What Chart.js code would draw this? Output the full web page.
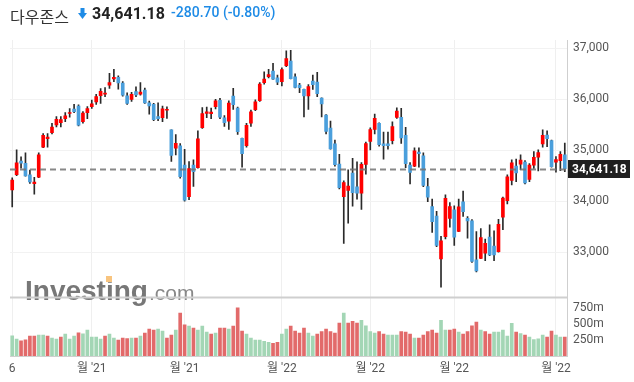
<!DOCTYPE html>
<html>
<head>
<meta charset="utf-8">
<script src="https://cdn.jsdelivr.net/npm/chart.js@4.4.0/dist/chart.umd.min.js"></script>
<style>
  html, body { margin: 0; padding: 0; background: #fff; }
  #wrap { position: relative; width: 634px; height: 382px; overflow: hidden; }
  #chart { position: absolute; left: 0; top: 0; }
  .hd { position: absolute; top: 4px; line-height: 20px; white-space: nowrap; }
  .nm { left: 10px; font: 16px "Noto Sans CJK KR", sans-serif; color: #333; }
  .arr { position: absolute; left: 78px; top: 8px; }
  .px { left: 92px; font: bold 16px Roboto, sans-serif; color: #222; }
  .chg { left: 171px; font: 500 14px Roboto, sans-serif; color: #1e8be6; }
</style>
</head>
<body>
<div id="wrap">
  <canvas id="chart" width="634" height="382"></canvas>
  <span class="hd nm">다우존스</span>
  <svg class="arr" width="9" height="12" viewBox="0 0 9 12"><rect x="2.5" y="0" width="4" height="6" fill="#1e8be6"/><polygon points="0,5 9,5 4.5,11" fill="#1e8be6"/></svg>
  <span class="hd px">34,641.18</span>
  <span class="hd chg">-280.70 (-0.80%)</span>
</div>
<script>
// dias de negociação (out/2021 - abr/2022)
const dates = [
  '2021-10-06','2021-10-07','2021-10-08','2021-10-11','2021-10-12','2021-10-13','2021-10-14','2021-10-15','2021-10-18','2021-10-19',
  '2021-10-20','2021-10-21','2021-10-22','2021-10-25','2021-10-26','2021-10-27','2021-10-28','2021-10-29',
  '2021-11-01','2021-11-02','2021-11-03','2021-11-04','2021-11-05','2021-11-08','2021-11-09','2021-11-10','2021-11-11','2021-11-12',
  '2021-11-15','2021-11-16','2021-11-17','2021-11-18','2021-11-19','2021-11-22','2021-11-23','2021-11-24','2021-11-26','2021-11-29','2021-11-30',
  '2021-12-01','2021-12-02','2021-12-03','2021-12-06','2021-12-07','2021-12-08','2021-12-09','2021-12-10','2021-12-13','2021-12-14',
  '2021-12-15','2021-12-16','2021-12-17','2021-12-20','2021-12-21','2021-12-22','2021-12-23','2021-12-27','2021-12-28','2021-12-29','2021-12-30','2021-12-31',
  '2022-01-03','2022-01-04','2022-01-05','2022-01-06','2022-01-07','2022-01-10','2022-01-11','2022-01-12','2022-01-13','2022-01-14',
  '2022-01-18','2022-01-19','2022-01-20','2022-01-21','2022-01-24','2022-01-25','2022-01-26','2022-01-27','2022-01-28','2022-01-31',
  '2022-02-01','2022-02-02','2022-02-03','2022-02-04','2022-02-07','2022-02-08','2022-02-09','2022-02-10','2022-02-11','2022-02-14',
  '2022-02-15','2022-02-16','2022-02-17','2022-02-18','2022-02-22','2022-02-23','2022-02-24','2022-02-25','2022-02-28',
  '2022-03-01','2022-03-02','2022-03-03','2022-03-04','2022-03-07','2022-03-08','2022-03-09','2022-03-10','2022-03-11','2022-03-14',
  '2022-03-15','2022-03-16','2022-03-17','2022-03-18','2022-03-21','2022-03-22','2022-03-23','2022-03-24','2022-03-25','2022-03-28',
  '2022-03-29','2022-03-30','2022-03-31','2022-04-01','2022-04-04','2022-04-05'
];

const opens = [
  34220,34520,34790,34745,34520,34345,34470,35060,35230,35345,
  35500,35540,35620,35725,35810,35870,35560,35740,35855,35950,
  36070,36100,36280,36400,36430,36320,36070,36000,36150,36100,
  36180,35930,35900,35660,35640,35785,35400,35040,35085,34710,
  34090,34710,34660,35445,35725,35720,35855,35980,35635,35570,
  36065,35830,35235,35090,35530,35795,35975,36325,36445,36555,
  36420,36345,36660,36750,36440,36280,36195,36065,36360,36340,
  36025,35690,35435,35125,34730,34090,34210,34550,34280,34160,
  34720,35175,35410,35530,35125,35125,35190,35645,35645,35295,
  34710,34690,34965,34890,34285,33895,33710,32865,33305,33660,
  33830,33405,33990,33665,33615,32850,32875,32980,33295,33120,
  33010,33685,34010,34410,34690,34725,34770,34430,34710,34865,
  35125,35300,35190,34765,34795,34910
];
const highs = [
  34460,35010,34870,34950,34610,34470,34950,35330,35330,35530,
  35660,35660,35740,35820,35900,35890,35760,35860,35985,36100,
  36210,36230,36510,36590,36460,36350,36130,36140,36245,36330,
  36220,35965,35920,35930,35870,35855,35400,35310,35130,35020,
  34780,34810,35380,35840,35850,35830,36000,36020,35680,35970,
  36215,35850,35240,35530,35790,35990,36330,36540,36590,36705,
  36475,36620,36950,36960,36500,36315,36200,36290,36475,36530,
  36030,35700,35575,35200,34920,34400,34615,34840,34775,34760,
  35160,35440,35710,35540,35355,35355,35560,35835,35825,35450,
  34760,35050,35050,34950,34450,34040,33800,33310,34125,33975,
  33910,34040,34200,33700,33640,33405,33465,33255,33535,33420,
  33645,34080,34520,34810,34825,34910,34800,34740,34975,35010,
  35400,35380,35200,34875,34975,35140
];
const lows = [
  33890,34500,34650,34490,34350,34140,34460,35050,35060,35320,
  35460,35460,35560,35650,35740,35480,35530,35620,35820,35900,
  35920,36050,36215,36345,36200,36060,35900,35960,36050,36080,
  35920,35710,35580,35580,35560,35625,34780,34910,34450,34000,
  34030,34290,34650,35430,35640,35620,35810,35620,35470,35410,
  35800,35310,34670,35060,35470,35780,35960,36300,36420,36390,
  36290,36265,36640,36400,36225,36130,35655,35800,36195,36050,
  35655,35320,35020,34690,34240,33170,33570,33905,34040,33840,
  34530,35005,35320,35080,34825,35020,35125,35625,35135,34660,
  34340,34680,34670,34285,33990,33385,33110,32310,33260,33490,
  33130,33400,33700,33275,32800,32610,32870,32835,32930,32835,
  33000,33440,33945,34320,34385,34620,34340,34385,34645,34595,
  35060,35070,34670,34570,34600,34580
];
const closes = [
  34417,34755,34746,34496,34378,34377,34912,35295,35259,35457,
  35609,35603,35677,35741,35757,35491,35731,35820,35913,36053,
  36158,36124,36328,36432,36320,36080,35921,36100,36087,36143,
  35931,35871,35602,35619,35814,35805,34899,35136,34484,34022,
  34640,34580,35227,35719,35755,35750,35971,35650,35544,35927,
  35897,35365,34932,35492,35754,35950,36302,36398,36488,36398,
  36338,36585,36799,36407,36236,36231,36068,36252,36290,36113,
  35911,35368,35029,34715,34265,34364,34297,34168,34160,34725,
  35132,35405,35629,35111,35089,35091,35463,35768,35241,34738,
  34566,34989,34934,34312,34079,33597,33132,33224,34059,33893,
  33294,33891,33795,33615,32818,32633,33286,33174,32944,32945,
  33545,34063,34481,34755,34553,34808,34359,34708,34862,34956,
  35294,35229,34678,34818,34922,34641
];
// volume em milhões
const volumes = [
  316,264,237,253,311,311,327,327,311,280,
  264,295,343,264,311,364,348,406,295,295,
  264,311,343,280,248,280,274,280,280,311,
  359,422,406,422,390,280,327,406,675,490,
  469,438,406,469,374,343,359,438,438,422,
  469,754,390,343,280,248,248,232,216,200,
  216,343,422,469,390,359,438,359,311,343,
  385,422,385,359,517,675,517,543,517,559,
  475,385,359,385,343,327,327,327,385,374,
  343,280,280,327,385,406,359,559,406,406,
  422,374,343,385,475,533,406,385,343,374,
  374,406,311,512,374,353,327,295,258,269,
  327,295,390,327,295,295
];

const xTickDates = ['2021-10-06','2021-11-01','2021-12-01','2022-01-03','2022-02-01','2022-03-01','2022-04-01'];
const xTickText = ['6', "월 '21", "월 '21", "월 '22", "월 '22", "월 '22", "월 '22"];
const priceTicks = [33000, 34000, 35000, 36000, 37000];
const volTicks = [250, 500, 750];
const lastPrice = 34641.18;

const upColor = '#ff0000';
const downColor = '#4a9fdc';
const wickColor = '#2a2a2a';
const volUp = '#a3d6b5';
const volDown = '#e26a6a';

const bodyColors = closes.map((c, i) => c >= opens[i] ? upColor : downColor);
const volColors = closes.map((c, i) => {
  const prev = i === 0 ? opens[0] : closes[i - 1];
  return c >= prev ? volUp : volDown;
});

const overlay = {
  id: 'overlay',
  beforeDatasetsDraw(chart) {
    const { ctx } = chart;
    // marca d'água
    ctx.save();
    ctx.font = 'bold 28px "Liberation Sans", Arial, sans-serif';
    ctx.fillStyle = '#777';
    ctx.fillText('Investing', 25, 300);
    const w = ctx.measureText('Investing').width;
    ctx.font = '21px "Liberation Sans Narrow", "Liberation Sans", sans-serif';
    ctx.fillStyle = '#888';
    ctx.fillText('.com', 25 + w + 1, 300);
    ctx.fillStyle = '#f8c47f';
    ctx.fillRect(106, 276, 6, 6);
    ctx.restore();
  },
  afterDraw(chart) {
    const { ctx, chartArea } = chart;
    const py = chart.scales.y;
    ctx.save();
    // separador entre preço e volume
    ctx.strokeStyle = '#cfcfcf';
    ctx.lineWidth = 2;
    ctx.beginPath();
    ctx.moveTo(chartArea.left, py.bottom);
    ctx.lineTo(chartArea.right, py.bottom);
    ctx.stroke();
    // linha do último preço
    const y = Math.round(py.getPixelForValue(lastPrice)) + 0.5;
    ctx.strokeStyle = 'rgba(115,115,115,0.85)';
    ctx.setLineDash([6, 4]);
    ctx.beginPath();
    ctx.moveTo(chartArea.left, y);
    ctx.lineTo(chartArea.right, y);
    ctx.stroke();
    ctx.setLineDash([]);
    // caixa com o preço
    ctx.fillStyle = '#1f1f1f';
    ctx.fillRect(chartArea.right + 1, y - 9.5, 62, 18);
    ctx.fillStyle = '#fff';
    ctx.font = 'bold 12px Roboto, sans-serif';
    ctx.textBaseline = 'middle';
    ctx.fillText(lastPrice.toLocaleString('en-US', { minimumFractionDigits: 2 }), chartArea.right + 5, y + 0.5);
    ctx.restore();
  }
};

Chart.defaults.font.family = 'Roboto, "Noto Sans CJK KR", sans-serif';
Chart.defaults.color = '#555';

new Chart(document.getElementById('chart'), {
  type: 'bar',
  data: {
    labels: dates,
    datasets: [
      {
        label: 'wick',
        data: lows.map((l, i) => [l, highs[i]]),
        backgroundColor: wickColor,
        barThickness: 1,
        grouped: false,
        order: 3,
        yAxisID: 'y'
      },
      {
        label: 'body',
        data: opens.map((o, i) => [o, closes[i]]),
        backgroundColor: bodyColors,
        barThickness: 3,
        grouped: false,
        order: 2,
        yAxisID: 'y'
      },
      {
        label: 'volume',
        data: volumes,
        backgroundColor: volColors,
        barThickness: 3,
        grouped: false,
        order: 1,
        yAxisID: 'vol'
      }
    ]
  },
  options: {
    responsive: false,
    animation: false,
    layout: { padding: { left: 10, top: 40, right: 0, bottom: 0 } },
    plugins: {
      legend: { display: false },
      tooltip: { enabled: false }
    },
    scales: {
      x: {
        offset: true,
        grid: {
          offset: false,
          drawTicks: false,
          color: (c) => xTickDates.includes(dates[c.index]) ? '#efefef' : 'rgba(0,0,0,0)'
        },
        border: { color: '#cfcfcf' },
        ticks: {
          autoSkip: false,
          maxRotation: 0,
          padding: 6,
          font: { size: 12 },
          color: '#555',
          callback: function(value, index) {
            const k = xTickDates.indexOf(dates[index]);
            return k >= 0 ? xTickText[k] : '';
          }
        },
        afterFit: (s) => { s.height = 26; }
      },
      y: {
        position: 'right',
        stack: 'painel',
        stackWeight: 4.4,
        min: 32110,
        max: 37165,
        grid: { color: '#f2f2f2', drawTicks: false },
        border: { color: '#cfcfcf' },
        ticks: {
          autoSkip: false,
          padding: 6,
          font: { size: 12 },
          color: '#555',
          callback: (v) => v.toLocaleString('en-US')
        },
        afterBuildTicks: (s) => { s.ticks = priceTicks.map(v => ({ value: v })); },
        afterFit: (s) => { s.width = 67; }
      },
      vol: {
        position: 'right',
        stack: 'painel',
        stackWeight: 1,
        min: 0,
        max: 918,
        grid: { display: false, drawTicks: false },
        border: { color: '#cfcfcf' },
        ticks: {
          autoSkip: false,
          padding: 6,
          font: { size: 12 },
          color: '#555',
          callback: (v) => v + 'm'
        },
        afterBuildTicks: (s) => { s.ticks = volTicks.map(v => ({ value: v })); },
        afterFit: (s) => { s.width = 67; }
      }
    }
  },
  plugins: [overlay]
});
</script>
</body>
</html>
